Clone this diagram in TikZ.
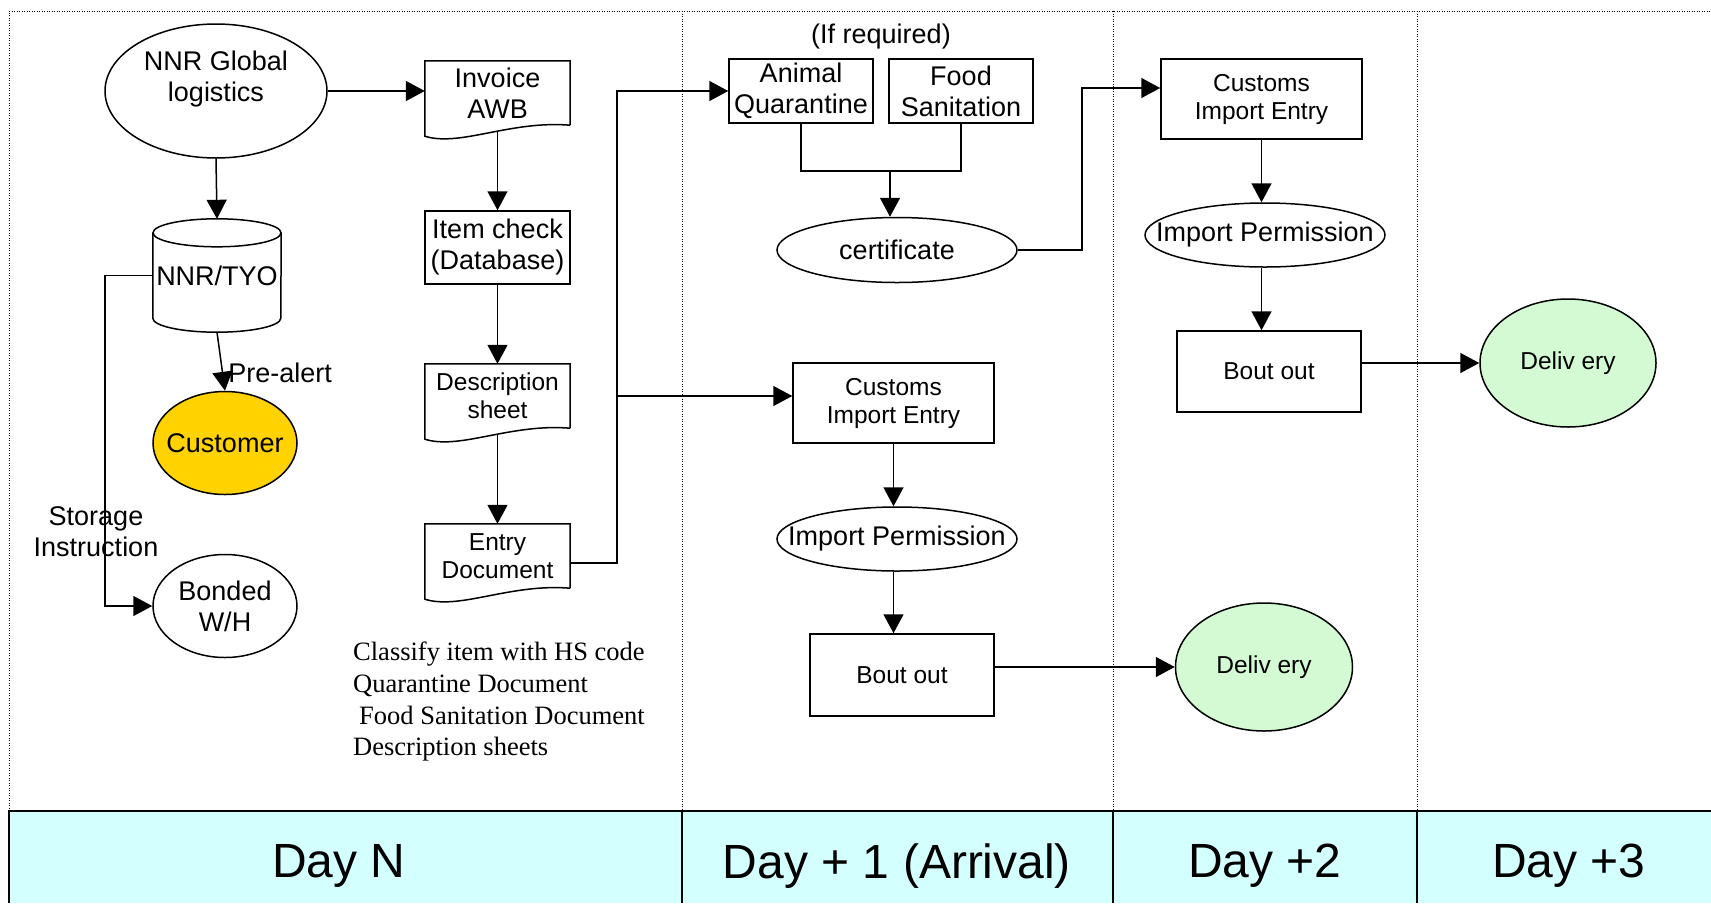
\documentclass[tikz,border=0pt]{standalone}
\usepackage{fontspec}
\setmainfont{Liberation Sans}
\newfontfamily\notefont{Liberation Serif}
\usetikzlibrary{arrows.meta,shapes.geometric}
\definecolor{bandcyan}{HTML}{D3FFFF}
\definecolor{custgold}{HTML}{FFD200}
\definecolor{delivgreen}{HTML}{D4FAD4}
\begin{document}
\begin{tikzpicture}[x=1pt, y=-1pt,
    wire/.style={line width=1.5pt},
    arr/.style={wire, -{Triangle[length=19pt,width=20pt]}},
    lane/.style={line width=0.9pt, dash pattern=on 1pt off 1.5pt},
    bigtxt/.style={font=\fontsize{27}{31}\selectfont, align=center, inner sep=0pt},
    smalltxt/.style={font=\fontsize{24.5}{28}\selectfont, align=center, inner sep=0pt},
    box/.style={draw, wire, rectangle},
    oval/.style={draw, wire, ellipse},
    doc/.style={rectangle, minimum width=145pt, minimum height=64pt}]
    \useasboundingbox (0,0) rectangle (1711,903);

    % lanes and day band
    \path[fill=bandcyan] (9,811) rectangle (1711,903);
    \draw[lane] (9,811) -- (9,11) -- (1711,11);
    \foreach \x in {682,1113,1417} {
        \draw[lane] (\x,11) -- (\x,811);
        \draw[line width=1.2pt] (\x,811) -- (\x,903);
    }
    \draw[line width=1.2pt] (9,903) -- (9,811) -- (1711,811);
    \foreach \cx/\day [count=\i] in {339/Day N, 897/Day + 1 (Arrival), 1265/Day +2, 1569/Day +3}
        \node[font=\fontsize{48}{52}\selectfont, inner sep=0pt] (day\i) at (\cx,866) {\day};

    % Day N
    \node[oval, bigtxt, minimum width=222pt, minimum height=134pt] (glob) at (216,91) {NNR Global\\logistics\\[-2pt]\mbox{}};
    \node[bigtxt, minimum width=128pt, minimum height=113pt] (nnr) at (217,275.5) {NNR/TYO};
    \node[oval, bigtxt, fill=custgold, minimum width=144pt, minimum height=103pt] (cust) at (225,443) {\makebox[0pt]{Customer}};
    \node[oval, bigtxt, minimum width=144pt, minimum height=103pt] (bonded) at (225,606) {Bonded\\W/H};
    \node[bigtxt] (storage) at (96,532) {Storage\\Instruction};
    \node[doc, bigtxt] (invoice) at (497.5,93) {Invoice\\AWB};
    \node[box, bigtxt, minimum width=145pt, minimum height=73pt] (item) at (497.5,247.5) {Item check\\(Database)};
    \node[doc, smalltxt] (descr) at (497.5,396) {Description\\sheet};
    \node[doc, smalltxt] (entry) at (497.5,556) {Entry\\Document};
    \node[font=\notefont\fontsize{26.5}{31.7}\selectfont, align=left, inner sep=0pt, anchor=north west] (notes) at (353,642)
        {Classify item with HS code\\Quarantine Document\\\hspace*{6pt}Food Sanitation Document\\Description sheets};

    % Day + 1
    \node[bigtxt] (ifreq) at (881,37) {(If required)};
    \node[box, bigtxt, minimum width=144pt, minimum height=64pt] (animal) at (801,91) {Animal\\Quarantine};
    \node[box, bigtxt, minimum width=144pt, minimum height=64pt] (food) at (961,91) {Food\\Sanitation};
    \node[oval, bigtxt, minimum width=240pt, minimum height=65pt] (cert) at (897,250) {certificate};
    \node[box, smalltxt, minimum width=201pt, minimum height=80pt] (cust1) at (893.5,403) {Customs\\Import Entry};
    \node[oval, bigtxt, minimum width=240pt, minimum height=64pt] (perm1) at (897,539) {\makebox[0pt]{Import Permission}};
    \node[box, smalltxt, minimum width=184pt, minimum height=82pt] (bout1) at (902,675) {Bout out};

    % Day +2 / +3
    \node[oval, smalltxt, fill=delivgreen, minimum width=177pt, minimum height=128pt] (deliv1) at (1264,667) {Deliv ery};
    \node[box, smalltxt, minimum width=201pt, minimum height=80pt] (cust2) at (1261.5,99) {Customs\\Import Entry};
    \node[oval, bigtxt, minimum width=240pt, minimum height=64pt] (perm2) at (1265,235) {\makebox[0pt]{Import Permission}};
    \node[box, smalltxt, minimum width=184pt, minimum height=81pt] (bout2) at (1269,371.5) {Bout out};
    \node[oval, smalltxt, fill=delivgreen, minimum width=176pt, minimum height=128pt] (deliv2) at (1568,363) {Deliv ery};

    % document and database outlines
    \foreach \d in {invoice,descr,entry}
        \draw[wire] (\d.south east) -- (\d.north east) -- (\d.north west) -- ([yshift=-11pt]\d.south west)
            .. controls +(35pt,-11pt) and +(-60pt,5pt) .. (\d.south east);
    \draw[wire] ([yshift=-14pt]nnr.north west) -- ([yshift=14pt]nnr.south west)
        arc[start angle=180, end angle=360, x radius=64pt, y radius=14pt] -- ([yshift=-14pt]nnr.north east);
    \draw[wire] ([yshift=-14pt]nnr.north) ellipse[x radius=64pt, y radius=14pt];

    % connectors
    \draw[arr] (glob.east) -- (glob.east -| invoice.west);
    \draw[arr] (glob.south) -- (nnr.north);
    \draw[arr] (nnr.south) -- node[pos=0.7, right=5pt, bigtxt] (prealert) {Pre-alert} (cust.north);
    \draw[arr] (nnr.west) -- ++(-48pt,0) |- (bonded.west);
    \draw[arr] ([yshift=-7pt]invoice.south) -- (item.north);
    \draw[arr] (item.south) -- (descr.north);
    \draw[arr] ([yshift=-7pt]descr.south) -- (entry.north);

    \coordinate (fork) at (617,396);
    \draw[wire] ([yshift=-7pt]entry.east) -| (fork);
    \draw[arr] (fork) |- (animal.west);
    \draw[arr] (fork) -- (fork -| cust1.west);

    \coordinate (merge) at (890,171);
    \draw[wire] (animal.south) |- (merge) -| (food.south);
    \draw[arr] (merge) -- (merge |- cert.north);
    \draw[arr] (cert.east) -- ++(64pt,0) |- ([yshift=11pt]cust2.west);

    \draw[arr] (cust1.south) -- (cust1.south |- perm1.north);
    \draw[arr] (perm1.south -| cust1.south) -- (cust1.south |- bout1.north);
    \draw[arr] (bout1.east |- deliv1.west) -- (deliv1.west);
    \draw[arr] (cust2.south) -- (cust2.south |- perm2.north);
    \draw[arr] (perm2.south -| cust2.south) -- (cust2.south |- bout2.north);
    \draw[arr] (bout2.east |- deliv2.west) -- (deliv2.west);
\end{tikzpicture}
\end{document}
